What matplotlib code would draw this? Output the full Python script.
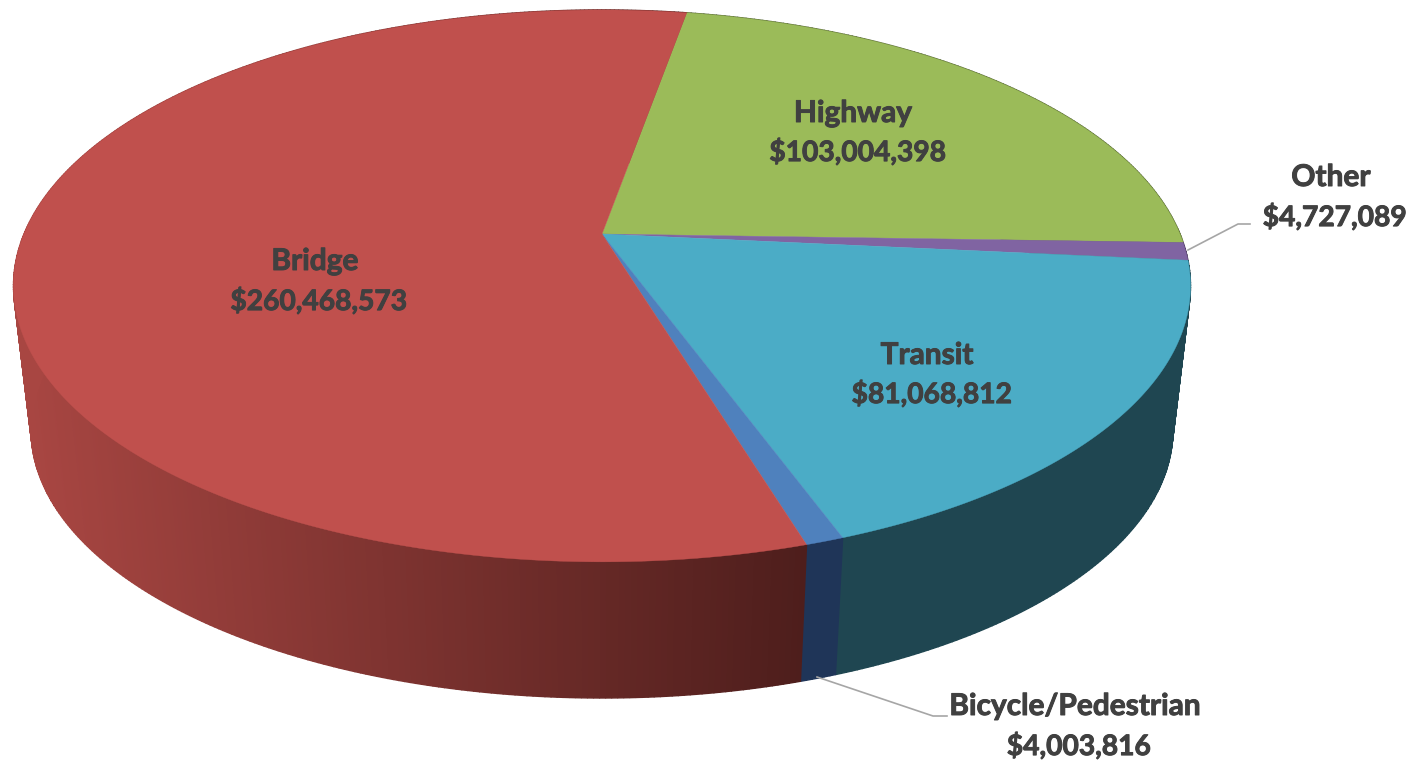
import numpy as np
import matplotlib
matplotlib.use('Agg')
import matplotlib.pyplot as plt
import matplotlib.patheffects as pe

# data, clockwise from the top of the pie
categories = ['Highway', 'Other', 'Transit', 'Bicycle/Pedestrian', 'Bridge']
values = [103004398, 4727089, 81068812, 4003816, 260468573]

top_colors = ['#9BBB59', '#8064A2', '#4BACC6', '#4F81BD', '#C0504D']
side_colors = ['#4F5F2D', '#413352', '#1F4651', '#1F3558', None]

# layout in pixels of the 1420x762 picture
START_ANGLE = 10.0
CX, CY = 602, 234
SX, SY, PERSP = 578, 266.2, 0.188
DEPTH, SHRINK = 146, 0.97

label_pos = {
    'Highway': ((853, 113), (858, 152)),
    'Other': ((1331, 177), (1335, 217)),
    'Transit': ((927, 355), (932, 394)),
    'Bicycle/Pedestrian': ((1075, 706), (1079, 746)),
    'Bridge': ((315, 261), (319, 301)),
}
leaders = {
    'Other': ([1188, 1238, 1250], [250, 224, 224]),
    'Bicycle/Pedestrian': ([817, 933, 947], [677, 716, 716]),
}


def project(theta, bottom=False):
    """Perspective projection of a rim point, theta in degrees clockwise from north."""
    t = np.radians(theta)
    X, Y = np.sin(t), np.cos(t)
    w = 1 + PERSP * Y
    x, y = SX * X / w, SY * Y / w
    if bottom:
        return CX + SHRINK * x, CY + DEPTH - SHRINK * y
    return CX + x, CY - y


def bridge_side_color(x):
    """Side of the large slice darkens from left to right."""
    f = np.clip((x - 30) / (800 - 30), 0, 1)
    light = np.array([168, 70, 66]) / 255
    dark = np.array([78, 30, 28]) / 255
    return tuple(light + (dark - light) * f)


fig = plt.figure(figsize=(14.2, 7.62), dpi=100)
ax = fig.add_axes([0, 0, 1, 1])
ax.set_xlim(0, 1420)
ax.set_ylim(762, 0)
ax.axis('off')

sweeps = np.array(values) / sum(values) * 360
starts = START_ANGLE + np.concatenate([[0], np.cumsum(sweeps)[:-1]])

# side wall first, the top face covers everything behind it
# drawn in strips so the outline follows the tangent between the two rims
for start, sweep, side in zip(starts, sweeps, side_colors):
    edges = np.linspace(start, start + sweep, max(int(sweep) * 2, 2) + 1)
    for a, b in zip(edges[:-1], edges[1:]):
        xt, yt = project(np.array([a, b]))
        xb, yb = project(np.array([b, a]), bottom=True)
        color = side if side else bridge_side_color((xt.mean() + xb.mean()) / 2)
        ax.fill(np.r_[xt, xb], np.r_[yt, yb], color=color, lw=1.0, zorder=1)

# top face
for start, sweep, col in zip(starts, sweeps, top_colors):
    theta = np.linspace(start, start + sweep, max(int(sweep) * 2, 4))
    x, y = project(theta)
    ax.fill(np.r_[CX, x], np.r_[CY, y], color=col, lw=0.3, zorder=2)

# leader lines
for xs, ys in leaders.values():
    ax.plot(xs, ys, color='#A6A6A6', lw=1.2, zorder=3)

# labels, slightly thickened because the original type is heavier than Lato Bold
heavy = [pe.withStroke(linewidth=0.7, foreground='#404040')]
for name, val in zip(categories, values):
    (x1, y1), (x2, y2) = label_pos[name]
    ax.text(x1, y1, name, ha='center', va='center', fontsize=21.5, family='Lato',
            fontweight='bold', color='#404040', zorder=4, path_effects=heavy)
    ax.text(x2, y2, f'${val:,}', ha='center', va='center', fontsize=20.3, family='Lato',
            fontweight='bold', color='#404040', zorder=4, path_effects=heavy)

fig.savefig('out.png', dpi=100)
